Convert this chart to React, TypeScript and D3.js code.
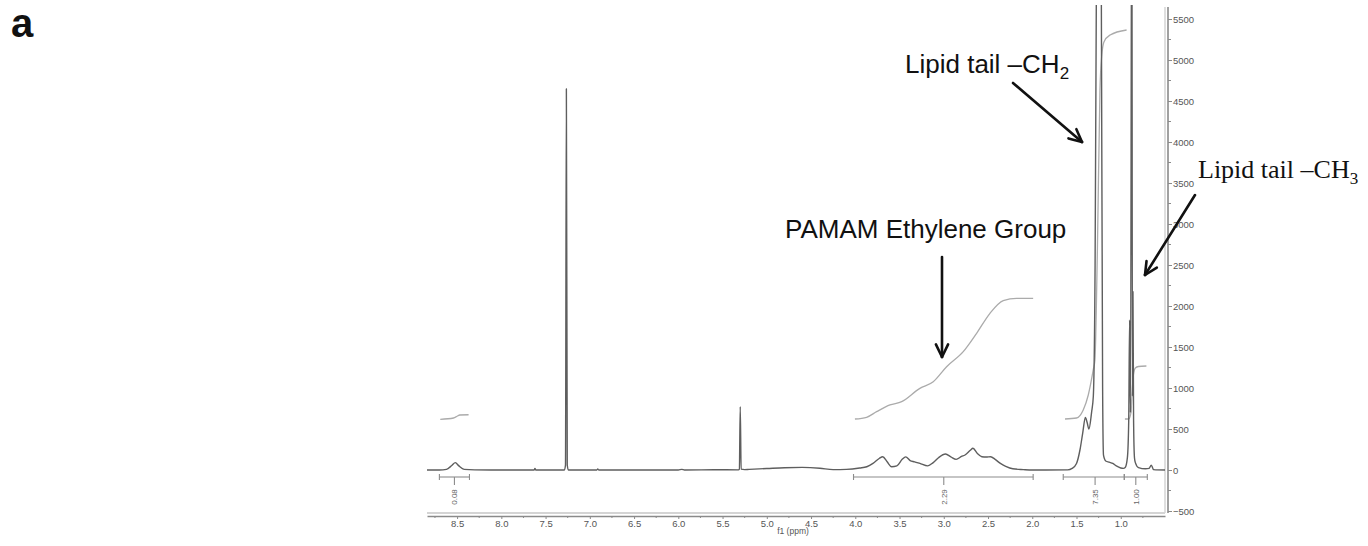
import { useEffect, useRef } from "react";
import * as d3 from "d3";

const W = 1368;
const H = 546;

// 1H NMR trace: [ppm, intensity]
const spectrum: [number, number][] = [
  [8.84, 0], [8.70, 0], [8.62, 8], [8.56, 55], [8.52, 90], [8.48, 50], [8.42, 8], [8.30, 2],
  [7.80, 0], [7.63, 0], [7.62, 18], [7.61, 0], [7.29, 0], [7.275, 60], [7.265, 4650], [7.255, 60],
  [7.24, 0], [6.92, 0], [6.91, 12], [6.90, 0], [6.0, 0], [5.96, 8], [5.93, 0], [5.60, 3],
  [5.32, 2], [5.31, 10], [5.30, 772], [5.29, 10], [5.25, 5], [5.2, 8], [5.0, 18], [4.8, 28],
  [4.6, 32], [4.4, 22], [4.25, 5], [4.1, 8], [3.95, 25], [3.87, 40], [3.80, 80], [3.73, 140],
  [3.69, 162], [3.64, 100], [3.59, 40], [3.53, 50], [3.47, 130], [3.43, 160], [3.38, 115],
  [3.33, 100], [3.27, 80], [3.18, 50], [3.12, 90], [3.06, 150], [2.98, 195], [2.92, 160],
  [2.86, 130], [2.80, 165], [2.76, 183], [2.70, 240], [2.67, 265], [2.62, 200], [2.57, 162],
  [2.52, 158], [2.47, 162], [2.42, 130], [2.36, 80], [2.30, 45], [2.22, 15], [2.10, 5],
  [2.0, 0], [1.60, 2], [1.55, 20], [1.50, 80], [1.46, 250], [1.43, 450], [1.40, 640],
  [1.38, 580], [1.36, 500], [1.33, 700], [1.31, 900], [1.29, 2500], [1.275, 6000],
  [1.25, 15000], [1.22, 6000], [1.205, 1000], [1.195, 180], [1.17, 110], [1.13, 95],
  [1.09, 80], [1.05, 50], [1.00, 25], [0.97, 20], [0.95, 30], [0.925, 150], [0.91, 600],
  [0.90, 1830], [0.89, 700], [0.875, 8000], [0.868, 900], [0.862, 2175], [0.855, 600],
  [0.845, 150], [0.835, 90], [0.80, 30], [0.72, 15], [0.68, 20], [0.655, 60], [0.63, 5],
  [0.5, 0],
];

// integral traces (gray), same units as the spectrum
const integral1: [number, number][] = [[8.69, 618], [8.54, 634], [8.50, 655], [8.47, 671], [8.37, 674]];
const integral2: [number, number][] = [
  [4.004, 622], [3.872, 643], [3.759, 711], [3.608, 793], [3.476, 833], [3.27, 996],
  [3.119, 1077], [2.968, 1260], [2.78, 1443], [2.629, 1667], [2.478, 1911], [2.328, 2065],
  [2.177, 2094], [1.99, 2094],
];
const integral3: [number, number][] = [
  [1.63, 622], [1.50, 634], [1.424, 732], [1.367, 915], [1.311, 1220], [1.292, 1341],
  [1.264, 2683], [1.235, 4634], [1.216, 5037], [1.19, 5220], [1.12, 5305], [0.934, 5366],
];
const integral4: [number, number][] = [
  [0.953, 622], [0.91, 622], [0.885, 700], [0.874, 900], [0.857, 1159], [0.835, 1245],
  [0.80, 1262], [0.71, 1268],
];

// integration brackets
const intFrom = [8.70, 4.02, 1.65, 0.96];
const intTo = [8.36, 1.99, 0.96, 0.70];
const intMid = [8.53, 3.00, 1.29, 0.83];
const intLabels = ["0.08", "2.29", "7.35", "1.00"];

const ppmTicks = [8.5, 8.0, 7.5, 7.0, 6.5, 6.0, 5.5, 5.0, 4.5, 4.0, 3.5, 3.0, 2.5, 2.0, 1.5, 1.0];
const ppmMinor = [8.75, 8.25, 7.75, 7.25, 6.75, 6.25, 5.75, 5.25, 4.75, 4.25, 3.75, 3.25, 2.75, 2.25, 1.75, 1.25, 0.75];
const yTicks = [-500, 0, 500, 1000, 1500, 2000, 2500, 3000, 3500, 4000, 4500, 5000, 5500];
const yMinor = [-250, 250, 750, 1250, 1750, 2250, 2750, 3250, 3750, 4250, 4750, 5250];

const SANS = "'Liberation Sans', Arial, sans-serif";
const SERIF = "'Liberation Serif', 'Times New Roman', serif";

export default function App() {
  const svgRef = useRef<SVGSVGElement>(null);

  useEffect(() => {
    if (!svgRef.current) return;
    const svg = d3.select(svgRef.current);
    svg.selectAll("*").remove();

    const x = d3.scaleLinear().domain([8.84, 0.5]).range([427, 1165]);
    const y = d3.scaleLinear().domain([-500, 5500]).range([511, 19]);

    svg.append("rect").attr("width", W).attr("height", H).attr("fill", "#fff");

    svg.append("defs").append("clipPath").attr("id", "plot-clip")
      .append("rect").attr("x", 420).attr("y", 5).attr("width", 746).attr("height", 505);

    // frame lines (light)
    svg.append("line").attr("x1", 427).attr("x2", 1165).attr("y1", 513).attr("y2", 513)
      .attr("stroke", "#d4d4d4").attr("stroke-width", 2);
    svg.append("line").attr("x1", 1165).attr("x2", 1165).attr("y1", 7).attr("y2", 513)
      .attr("stroke", "#d4d4d4").attr("stroke-width", 1.5);

    const line = d3.line<[number, number]>()
      .x(d => x(d[0])).y(d => y(d[1]))
      .curve(d3.curveMonotoneX);

    const plot = svg.append("g").attr("clip-path", "url(#plot-clip)");

    for (const integ of [integral1, integral2, integral3, integral4]) {
      plot.append("path").attr("d", line(integ))
        .attr("fill", "none").attr("stroke", "#ababab").attr("stroke-width", 1.3);
    }

    plot.append("path").attr("d", line(spectrum))
      .attr("fill", "none").attr("stroke", "#5e5e5e").attr("stroke-width", 1.4)
      .attr("stroke-linejoin", "round");

    // integration brackets
    const br = svg.append("g").attr("stroke", "#8c8c8c").attr("stroke-width", 1.1);
    const brY = 477;
    intFrom.forEach((f, i) => {
      br.append("line").attr("x1", x(f)).attr("x2", x(intTo[i])).attr("y1", brY).attr("y2", brY);
      for (const e of [f, intTo[i]]) {
        br.append("line").attr("x1", x(e)).attr("x2", x(e)).attr("y1", brY - 3).attr("y2", brY + 3);
      }
      br.append("line").attr("x1", x(intMid[i])).attr("x2", x(intMid[i])).attr("y1", brY).attr("y2", brY + 8);
      svg.append("text")
        .attr("transform", `translate(${x(intMid[i]) + 3},497) rotate(-90)`)
        .attr("text-anchor", "middle")
        .attr("font-family", SANS).attr("font-size", 8).attr("fill", "#666")
        .text(intLabels[i]);
    });

    const styleAxis = (sel: any) => {
      sel.selectAll("text").attr("fill", "#555").attr("font-size", 9.5).attr("font-family", SANS);
      sel.selectAll("line, path").attr("stroke", "#8a8a8a");
    };

    // bottom ppm axis
    const gx = svg.append("g").attr("transform", "translate(0,516)");
    gx.call(d3.axisBottom(x).tickValues(ppmTicks).tickSize(3).tickPadding(1)
      .tickFormat(d3.format(".1f")).tickSizeOuter(0) as any)
      .call(styleAxis);
    gx.select(".domain").attr("stroke-width", 1.6);
    gx.selectAll("line.minor").data(ppmMinor).join("line").attr("class", "minor")
      .attr("x1", d => x(d)).attr("x2", d => x(d)).attr("y1", 0).attr("y2", 2)
      .attr("stroke", "#8a8a8a");
    svg.append("text").attr("x", 793).attr("y", 534).attr("text-anchor", "middle")
      .attr("font-family", SANS).attr("font-size", 8.5).attr("fill", "#555").text("f1 (ppm)");

    // right intensity axis
    const gy = svg.append("g").attr("transform", "translate(1168,0)");
    gy.call(d3.axisRight(y).tickValues(yTicks).tickSize(4).tickPadding(1)
      .tickFormat(d3.format("d")).tickSizeOuter(0) as any)
      .call(styleAxis);
    gy.select(".domain").attr("d", `M0,7V513`).attr("stroke-width", 1.6);
    gy.selectAll("line.minor").data(yMinor).join("line").attr("class", "minor")
      .attr("x1", 0).attr("x2", 3).attr("y1", d => y(d)).attr("y2", d => y(d))
      .attr("stroke", "#8a8a8a");

    // panel letter
    svg.append("text").attr("x", 11).attr("y", 37)
      .attr("font-family", SANS).attr("font-weight", 700).attr("font-size", 40).attr("fill", "#111")
      .text("a");

    // annotations
    const arrow = (x1: number, y1: number, x2: number, y2: number) => {
      const g = svg.append("g").attr("stroke", "#111").attr("stroke-width", 2.6)
        .attr("stroke-linecap", "round").attr("fill", "none");
      g.append("line").attr("x1", x1).attr("y1", y1).attr("x2", x2).attr("y2", y2);
      const a = Math.atan2(y2 - y1, x2 - x1);
      for (const s of [-1, 1]) {
        g.append("line").attr("x1", x2).attr("y1", y2)
          .attr("x2", x2 - 14 * Math.cos(a + s * 0.45))
          .attr("y2", y2 - 14 * Math.sin(a + s * 0.45));
      }
    };

    const ch2 = svg.append("text").attr("x", 905).attr("y", 73)
      .attr("font-family", SANS).attr("font-size", 26).attr("fill", "#111");
    ch2.append("tspan").text("Lipid tail \u2013CH");
    ch2.append("tspan").attr("font-size", 17).attr("dy", 6).text("2");
    arrow(1013, 83, 1082, 142);

    const ch3 = svg.append("text").attr("x", 1198).attr("y", 178)
      .attr("font-family", SERIF).attr("font-size", 26).attr("fill", "#111");
    ch3.append("tspan").text("Lipid tail \u2013CH");
    ch3.append("tspan").attr("font-size", 17).attr("dy", 6).text("3");
    arrow(1195, 195, 1145, 275);

    svg.append("text").attr("x", 785).attr("y", 238)
      .attr("font-family", SANS).attr("font-size", 26).attr("fill", "#111")
      .text("PAMAM Ethylene Group");
    arrow(942, 257, 942, 357);
  }, []);

  return (
    <div style={{ position: "absolute", left: 0, top: 0 }}>
      <svg ref={svgRef} width={W} height={H} style={{ display: "block" }} />
    </div>
  );
}
